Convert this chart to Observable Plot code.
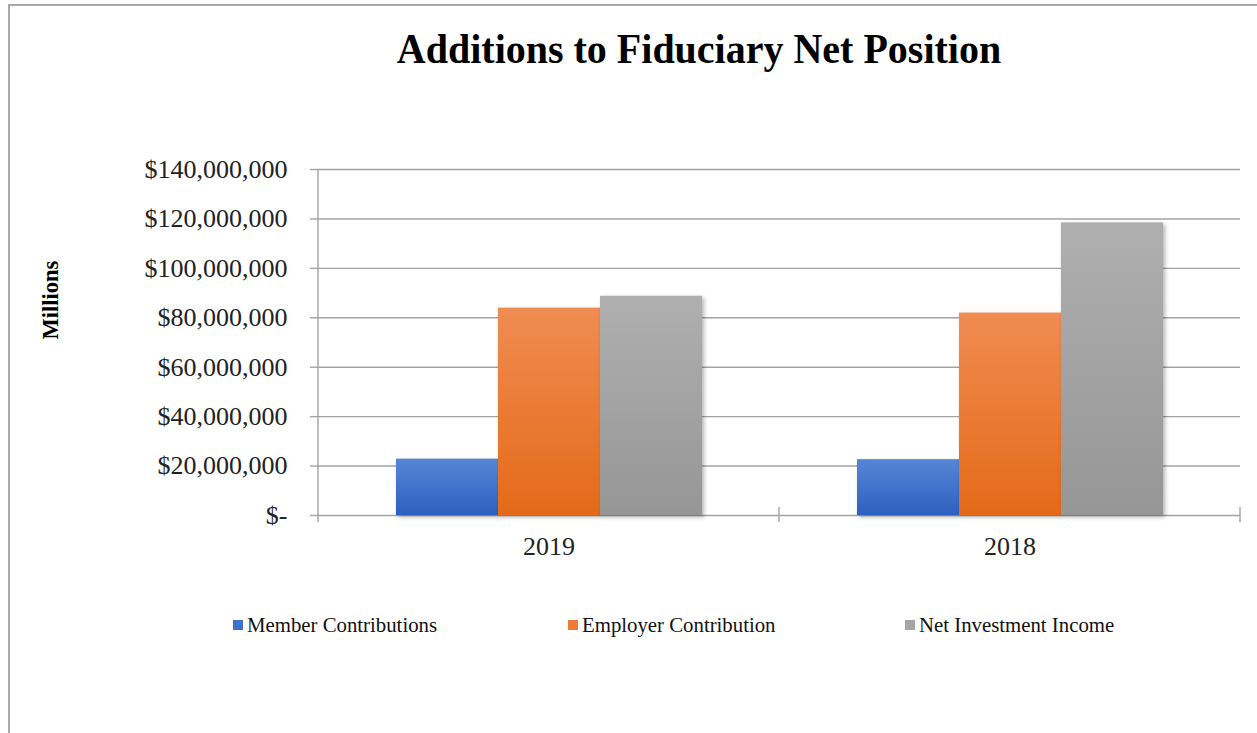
<!DOCTYPE html>
<html>
<head>
<meta charset="utf-8">
<script src="https://cdn.jsdelivr.net/npm/d3@7"></script>
<script src="https://cdn.jsdelivr.net/npm/@observablehq/plot@0.6"></script>
<style>
  html, body { margin: 0; padding: 0; background: #fff; }
  #root { position: relative; width: 1257px; height: 733px; overflow: hidden; background: #fff; font-family: "Liberation Serif", "Times New Roman", serif; }
  .frame { position: absolute; left: 8px; top: 4px; width: 1400px; height: 900px; border-left: 2px solid #a8a8a8; border-top: 2px solid #a8a8a8; }
  .title { position: absolute; left: 699px; top: 27px; font-size: 43px; font-weight: bold; line-height: 1; white-space: nowrap; color: #000; transform: translateX(-50%) scaleX(0.93); }
  .ylabel { position: absolute; left: 51px; top: 300px; font-size: 22.5px; font-weight: bold; line-height: 1; white-space: nowrap; color: #000; transform: translate(-50%, -50%) rotate(-90deg); }
  #chart { position: absolute; left: 0; top: 0; }
  #chart svg g[aria-label="bar"] rect { filter: drop-shadow(2px 2px 2px rgba(0,0,0,0.3)); }
  .legend-item { position: absolute; top: 612px; display: flex; align-items: center; font-size: 20.8px; line-height: 26px; color: #111; white-space: nowrap; }
  .legend-item .sw { width: 10px; height: 10px; margin-right: 4px; }
</style>
</head>
<body>
<svg width="0" height="0" style="position:absolute">
  <defs>
    <linearGradient id="gBlue" x1="0" y1="0" x2="0" y2="1">
      <stop offset="0" stop-color="#5686d6"/>
      <stop offset="1" stop-color="#2c61c2"/>
    </linearGradient>
    <linearGradient id="gOrange" x1="0" y1="0" x2="0" y2="1">
      <stop offset="0" stop-color="#f08c52"/>
      <stop offset="1" stop-color="#e46a18"/>
    </linearGradient>
    <linearGradient id="gGray" x1="0" y1="0" x2="0" y2="1">
      <stop offset="0" stop-color="#afafaf"/>
      <stop offset="1" stop-color="#969696"/>
    </linearGradient>
  </defs>
</svg>
<div id="root">
  <div class="frame"></div>
  <div class="title">Additions to Fiduciary Net Position</div>
  <div class="ylabel">Millions</div>
  <div id="chart"></div>
  <div id="legend"></div>
</div>
<script>
const years = ["2019", "2018"];
const series = ["Member Contributions", "Employer Contribution", "Net Investment Income"];
const memberContributions = [22800000, 22600000];
const employerContribution = [83900000, 81900000];
const netInvestmentIncome = [88700000, 118400000];
const yTicks = [0, 20000000, 40000000, 60000000, 80000000, 100000000, 120000000, 140000000];
const seriesFills = ["url(#gBlue)", "url(#gOrange)", "url(#gGray)"];
const legendColors = ["#3e70cc", "#ee7d33", "#a5a5a5"];
const legendLefts = [233, 568, 905];

const valuesBySeries = [memberContributions, employerContribution, netInvestmentIncome];
const data = [];
years.forEach((year, i) => {
  series.forEach((s, j) => {
    data.push({year, series: s, value: valuesBySeries[j][i]});
  });
});

const fmt = d => d === 0 ? "$-" : "$" + d3.format(",")(d);

const plot = Plot.plot({
  width: 1257,
  height: 560,
  marginTop: 169,
  marginBottom: 45,
  marginLeft: 318,
  marginRight: 17,
  style: {fontFamily: "'Liberation Serif', 'Times New Roman', serif", color: "#222", background: "transparent"},
  fx: {domain: years, padding: 0, label: null},
  x: {domain: series, paddingInner: 0, paddingOuter: 0.75, axis: null},
  y: {domain: [0, 140000000], label: null},
  color: {domain: series, range: seriesFills},
  marks: [
    Plot.gridY(yTicks, {stroke: "#a3a3a3", strokeOpacity: 1, strokeWidth: 1.4}),
    Plot.axisY(yTicks, {tickSize: 8, tickPadding: 23, fontSize: 26, tickFormat: fmt, stroke: "#a3a3a3", strokeWidth: 1.4, fill: "#222", label: null}),
    Plot.axisFx({anchor: "bottom", tickSize: 0, tickPadding: 21, fontSize: 26, fill: "#222", label: null}),
    Plot.barY(data, {fx: "year", x: "series", y: "value", fill: "series"})
  ]
});

document.getElementById("chart").appendChild(plot);

// Category-axis line and boundary ticks, placed with the plot's own scales
const fx = plot.scale("fx");
const y = plot.scale("y");
const svg = d3.select(plot);
const y0 = y.apply(0);
const yTop = y.apply(yTicks[yTicks.length - 1]);
const firstLeft = fx.apply(years[0]);
const g = svg.append("g").attr("stroke", "#a3a3a3").attr("stroke-width", 1.4);
g.append("line").attr("x1", firstLeft).attr("x2", firstLeft).attr("y1", yTop).attr("y2", y0 + 7);
years.forEach(yr => {
  const xr = fx.apply(yr) + fx.bandwidth;
  g.append("line").attr("x1", xr).attr("x2", xr).attr("y1", y0 - 8).attr("y2", y0 + 7);
});

const legend = document.getElementById("legend");
series.forEach((s, i) => {
  const item = document.createElement("div");
  item.className = "legend-item";
  item.style.left = legendLefts[i] + "px";
  const sw = document.createElement("span");
  sw.className = "sw";
  sw.style.background = legendColors[i];
  const tx = document.createElement("span");
  tx.textContent = s;
  item.appendChild(sw);
  item.appendChild(tx);
  legend.appendChild(item);
});
</script>
</body>
</html>
